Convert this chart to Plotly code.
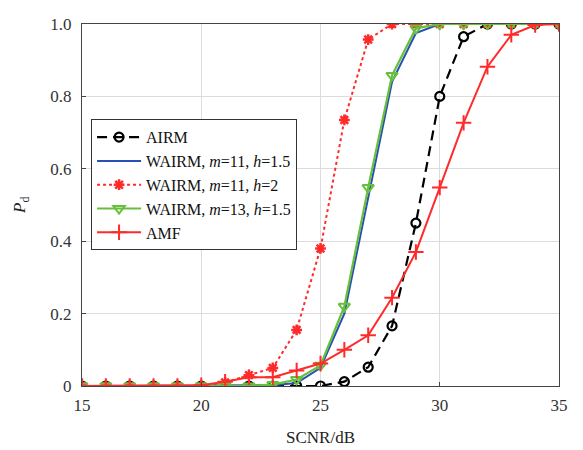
import plotly.graph_objects as go

scnr = list(range(15, 36))
airm = [0, 0, 0, 0, 0, 0, 0, 0, 0, 0, 0.0, 0.012, 0.052, 0.166, 0.45, 0.80, 0.965, 1.0, 1.0, 1.0, 1.0]
wairm_11_15 = [0, 0, 0, 0, 0, 0, 0, 0, 0.002, 0.008, 0.05, 0.2, 0.52, 0.84, 0.975, 1.0, 1.0, 1.0, 1.0, 1.0, 1.0]
wairm_11_2 = [0, 0, 0, 0, 0, 0, 0.01, 0.03, 0.05, 0.155, 0.38, 0.735, 0.957, 1.0, 1.0, 1.0, 1.0, 1.0, 1.0, 1.0, 1.0]
wairm_13_15 = [0, 0, 0, 0, 0, 0, 0, 0, 0.004, 0.018, 0.057, 0.22, 0.548, 0.858, 0.988, 1.0, 1.0, 1.0, 1.0, 1.0, 1.0]
amf = [0, 0, 0, 0, 0, 0.002, 0.012, 0.024, 0.024, 0.043, 0.062, 0.1, 0.14, 0.244, 0.37, 0.548, 0.727, 0.882, 0.97, 0.997, 1.0]

xticks = [15, 20, 25, 30, 35]
yticks = [0, 0.2, 0.4, 0.6, 0.8, 1.0]
yticktext = ["0", "0.2", "0.4", "0.6", "0.8", "1.0"]

black = "#000000"
blue = "#2850b4"
red = "#ff2a2a"
green = "#66c03c"

fig = go.Figure()
fig.add_trace(go.Scatter(x=scnr, y=airm, name="AIRM", mode="lines+markers",
                         line=dict(color=black, width=2.2, dash="10px,6px"),
                         marker=dict(symbol="circle-open", size=9, color=black, line=dict(width=2.2))))
fig.add_trace(go.Scatter(x=scnr, y=wairm_11_15, name="WAIRM, <i>m</i>=11, <i>h</i>=1.5", mode="lines+markers",
                         line=dict(color=blue, width=2),
                         marker=dict(symbol="circle", size=2, color=blue)))
fig.add_trace(go.Scatter(x=scnr, y=wairm_11_2, name="WAIRM, <i>m</i>=11, <i>h</i>=2", mode="lines+markers",
                         line=dict(color=red, width=2, dash="dot"),
                         marker=dict(symbol="asterisk-open", size=9, color=red, line=dict(width=2.5, color=red))))
fig.add_trace(go.Scatter(x=scnr, y=wairm_13_15, name="WAIRM, <i>m</i>=13, <i>h</i>=1.5", mode="lines+markers",
                         line=dict(color=green, width=2.2),
                         marker=dict(symbol="triangle-down-open", size=10, color=green, line=dict(width=2, color=green))))
fig.add_trace(go.Scatter(x=scnr, y=amf, name="AMF", mode="lines+markers",
                         line=dict(color=red, width=2),
                         marker=dict(symbol="cross-thin-open", size=11, color=red, line=dict(width=2, color=red))))

font = "Liberation Serif"
tickfont = dict(family=font, size=17, color="#333333")
fig.update_layout(
    width=575, height=442,
    margin=dict(l=74, r=24, t=7, b=63),
    paper_bgcolor="white", plot_bgcolor="white",
    font=dict(family=font, size=16, color="#222222"),
    showlegend=True,
    legend=dict(x=0.019, y=0.737, xanchor="left", yanchor="top",
                bgcolor="white", bordercolor="#333333", borderwidth=1,
                font=dict(family=font, size=16, color="#111111"),
                tracegroupgap=0, itemwidth=44),
    xaxis=dict(range=[15, 35], tickvals=xticks, showgrid=True, gridcolor="#dcdcdc",
               showline=True, linecolor="#444444", linewidth=1, mirror=True,
               ticks="inside", ticklen=4, tickcolor="#444444", zeroline=False,
               tickfont=tickfont, ticklabelstandoff=4, ticklabeloverflow="allow",
               title=dict(text="SCNR/dB", standoff=16, font=dict(family=font, size=17, color="#222222"))),
    yaxis=dict(range=[0, 1], tickvals=yticks, ticktext=yticktext, showgrid=True, gridcolor="#dcdcdc",
               showline=True, linecolor="#444444", linewidth=1, mirror=True,
               ticks="inside", ticklen=4, tickcolor="#444444", zeroline=False,
               tickfont=tickfont, ticklabelstandoff=6, ticklabeloverflow="allow"),
    annotations=[dict(text="<i>P</i><sub>d</sub>", xref="paper", yref="paper",
                      x=-0.128, y=0.5, xanchor="center", yanchor="middle", textangle=-90,
                      showarrow=False, font=dict(family=font, size=17, color="#222222"))],
)

fig.write_html("out.html")
